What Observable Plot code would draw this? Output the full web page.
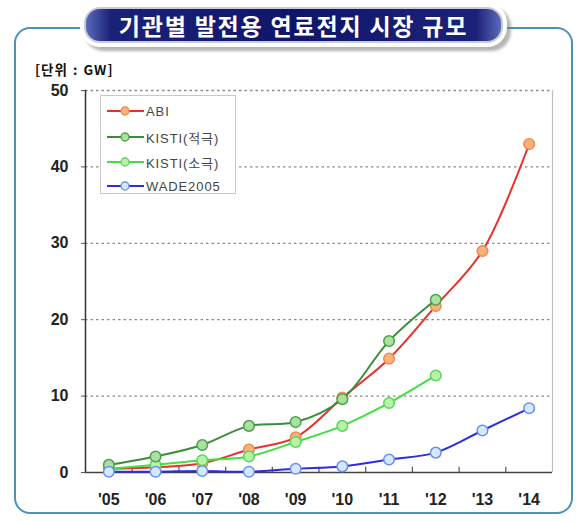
<!DOCTYPE html>
<html><head><meta charset="utf-8">
<script src="https://cdn.jsdelivr.net/npm/d3@7"></script>
<script src="https://cdn.jsdelivr.net/npm/@observablehq/plot@0.6"></script>
<style>
html,body{margin:0;padding:0;background:#fff;}
#wrap{position:relative;width:584px;height:522px;overflow:hidden;font-family:"Liberation Sans",Arial,sans-serif;}
#box{position:absolute;left:14px;top:27px;width:555px;height:483px;border:2px solid #4f90b8;border-radius:16px;}
#title{position:absolute;left:84px;top:7px;width:415px;height:32px;border-radius:16px;
 background:linear-gradient(90deg,#5a6ab8 0%,#1a2278 6%,#10156a 50%,#1a2278 94%,#5a6ab8 100%);border:2px solid #c8ccd8;
 box-shadow:0 0 0 4px #fff, 4px 4px 3px 4px rgba(120,120,120,0.55);color:#fff;
 font-family:"Noto Sans CJK KR",sans-serif;font-weight:bold;font-size:23px;line-height:32px;text-align:center;letter-spacing:1.8px;}
#unit{position:absolute;left:35px;top:59px;font-size:13.5px;font-weight:bold;font-family:"Noto Sans CJK KR",sans-serif;color:#111;letter-spacing:1px;word-spacing:1px;}
#plot{position:absolute;left:0;top:0;}
#legend{position:absolute;left:100px;top:95px;width:134px;height:97px;border:1px solid #c8c8c8;background:#fff;}
.li{position:absolute;left:6px;height:20px;display:flex;align-items:center;font-size:13px;color:#444;font-family:"Liberation Sans","Noto Sans CJK KR",sans-serif;letter-spacing:0.9px;}
.li svg{margin-right:2px;}
</style></head>
<body><div id="wrap">
<div id="box"></div>
<div id="title">기관별 발전용 연료전지 시장 규모</div>
<div id="unit">[단위 : GW]</div>
<div id="plot"></div>
<div id="legend"></div>
</div>
<script>
const years = ["'05","'06","'07","'08","'09","'10","'11","'12","'13","'14"];
const seriesNames = ["ABI","KISTI(적극)","KISTI(소극)","WADE2005"];
const abi = [0.5,0.7,1.2,3.0,4.6,9.8,14.9,21.8,29.0,43.0];
const kistiHigh = [1.0,2.1,3.6,6.1,6.6,9.6,17.2,22.6];
const kistiLow = [0.5,1.0,1.6,2.1,4.0,6.1,9.1,12.7];
const wade = [0.1,0.1,0.2,0.1,0.5,0.8,1.7,2.6,5.5,8.4];
const yTicks = [0,10,20,30,40,50];

const styles = {
  "ABI":{line:"#e8302a",fill:"#f8b27a",stroke:"#ef8a50"},
  "KISTI(적극)":{line:"#3c8c3c",fill:"#a9e2a0",stroke:"#4f9f4f"},
  "KISTI(소극)":{line:"#3fe03f",fill:"#b6f3a8",stroke:"#5fd35f"},
  "WADE2005":{line:"#2a2ee0",fill:"#d6e8ff",stroke:"#6a8ff0"}
};
const valuesBy = {"ABI":abi,"KISTI(적극)":kistiHigh,"KISTI(소극)":kistiLow,"WADE2005":wade};
const rows = s => valuesBy[s].map((v,i)=>({i, v, s}));
const drawOrder = ["ABI","KISTI(소극)","KISTI(적극)","WADE2005"];

const seriesMarks = drawOrder.flatMap(s => [
  Plot.line(rows(s), {x:"i", y:"v", stroke:styles[s].line, strokeWidth:2, curve:"catmull-rom"}),
  Plot.dot(rows(s), {x:"i", y:"v", r:5.3, fill:styles[s].fill, stroke:styles[s].stroke, strokeWidth:1.5})
]);

const chart = Plot.plot({
  width:584, height:522,
  marginLeft:85, marginRight:32, marginTop:90, marginBottom:50,
  style:{background:"transparent", fontFamily:"'Liberation Sans', Arial, sans-serif", overflow:"visible"},
  x:{type:"linear", domain:[-0.5, years.length-0.5]},
  y:{domain:[0,50]},
  marks:[
    Plot.ruleY(yTicks.slice(1), {stroke:"#8a8a8a", strokeWidth:1.3, strokeDasharray:"2.5,3"}),
    Plot.ruleX([years.length-0.5], {stroke:"#c0c0c0", strokeWidth:1.2}),
    Plot.axisY({ticks:yTicks, tickSize:4, tickPadding:13, fontSize:16, fontWeight:"bold", fill:"#222", stroke:"#555", label:null}),
    Plot.axisX({ticks:d3.range(years.length), tickFormat:i=>years[i], tickSize:0, tickPadding:21, fontSize:16, fontWeight:"bold", fill:"#222", label:null}),
    Plot.ruleX(d3.range(years.length-1).map(i=>i+0.5), {y1:0, y2:0.7, stroke:"#555", strokeWidth:1.2}),
    Plot.ruleX([-0.5], {stroke:"#333", strokeWidth:1.5}),
    Plot.ruleY([0], {stroke:"#444", strokeWidth:1.5}),
    ...seriesMarks
  ]
});
document.getElementById("plot").appendChild(chart);

const legend = document.getElementById("legend");
seriesNames.forEach((s,k)=>{
  const d = document.createElement("div");
  d.className = "li";
  d.style.top = [5,31,56,80][k] + "px";
  const st = styles[s];
  d.innerHTML = `<svg width="37" height="12"><line x1="0" x2="37" y1="6" y2="6" stroke="${st.line}" stroke-width="2"/><circle cx="18" cy="6" r="4" fill="${st.fill}" stroke="${st.stroke}" stroke-width="1.3"/></svg><span>${s}</span>`;
  legend.appendChild(d);
});
</script>
</body></html>
